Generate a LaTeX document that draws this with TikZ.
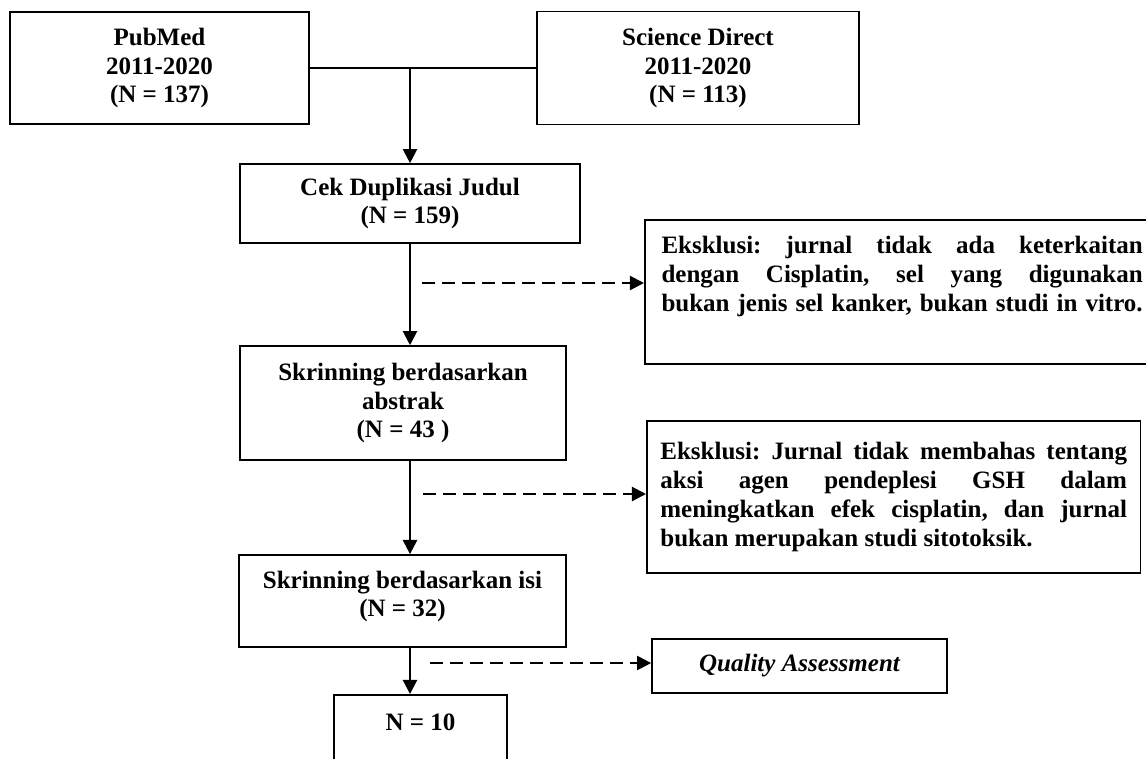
\documentclass[tikz,border=0pt]{standalone}
\usepackage{fontspec}
\setmainfont{Liberation Serif}
\usetikzlibrary{arrows.meta}
\frenchspacing

\begin{document}
\begin{tikzpicture}[
  x=0.48pt, y=-0.48pt,
  font=\fontsize{12}{13.8}\selectfont\bfseries,
  box/.style={draw,line width=0.8pt,align=center,inner sep=2pt},
  excl/.style={draw,line width=0.8pt,align=justify,anchor=north west,
    inner xsep=8pt,inner ysep=8pt},
  arr/.style={-{Triangle[length=6.8pt,width=6.8pt]},line width=1pt},
  exarr/.style={arr,dash pattern=on 6pt off 3.6pt}]
\useasboundingbox (0,0) rectangle (1146,758);
\clip (0,0) rectangle (1146,758);
% sumber
\node[box,minimum width=143.5pt,minimum height=53.8pt] (pub) at (159.5,68)
  {PubMed\\2011-2020\\(N = 137)};
\node[box,minimum width=154.6pt,minimum height=54.2pt] (sd) at (698,68)
  {Science Direct\\2011-2020\\(N = 113)};
% tahap seleksi
\node[box,minimum width=163.2pt,minimum height=37.9pt] (cek) at (410,203.5)
  {Cek Duplikasi Judul\\(N = 159)};
\node[box,minimum width=156.5pt,minimum height=54.7pt] (abs) at (403,403)
  {Skrinning berdasarkan\\abstrak\\(N = 43 )};
\node[box,minimum width=157pt,minimum height=44.2pt,text depth=7pt] (isi) at (402.5,601)
  {Skrinning berdasarkan isi\\(N = 32)};
\node[box,anchor=north,minimum width=83pt,inner ysep=9pt,text depth=40pt] (n10)
  at (420.5,694) {N = 10};
% eksklusi
\node[excl,text width=231pt,text depth=45pt] (ex1) at (644,219)
  {Eksklusi: jurnal tidak ada keterkaitan\linebreak dengan
   Cisplatin, sel yang digunakan\linebreak
   \hbox to\linewidth{bukan jenis sel kanker, bukan studi in vitro.}};
\node[excl,text width=224pt,inner xsep=6.5pt,minimum height=73pt] (ex2) at (646,420)
  {Eksklusi: Jurnal tidak membahas tentang\linebreak aksi agen pendeplesi GSH
   dalam\linebreak meningkatkan efek cisplatin, dan jurnal\linebreak bukan
   merupakan studi sitotoksik.};
\node[box,minimum width=141.6pt,minimum height=25.9pt] (qa) at (799.5,666)
  {\itshape Quality Assessment};
% panah
\coordinate (join) at (pub.east -| cek.north);
\draw[line width=1pt] (pub.east) -- (sd.west);
\draw[arr] (join) -- (cek.north);
\draw[arr] (cek.south) -- (cek.south |- abs.north);
\draw[arr] (cek.south |- abs.south) -- (cek.south |- isi.north);
\draw[arr] (cek.south |- isi.south) -- (cek.south |- n10.north);
\coordinate (d1) at (422,283);
\coordinate (d2) at (423,494);
\coordinate (d3) at (430,663);
\draw[exarr] (d1) -- (d1 -| ex1.west);
\draw[exarr] (d2) -- (d2 -| ex2.west);
\draw[exarr] (d3) -- (d3 -| qa.west);
\end{tikzpicture}
\end{document}
